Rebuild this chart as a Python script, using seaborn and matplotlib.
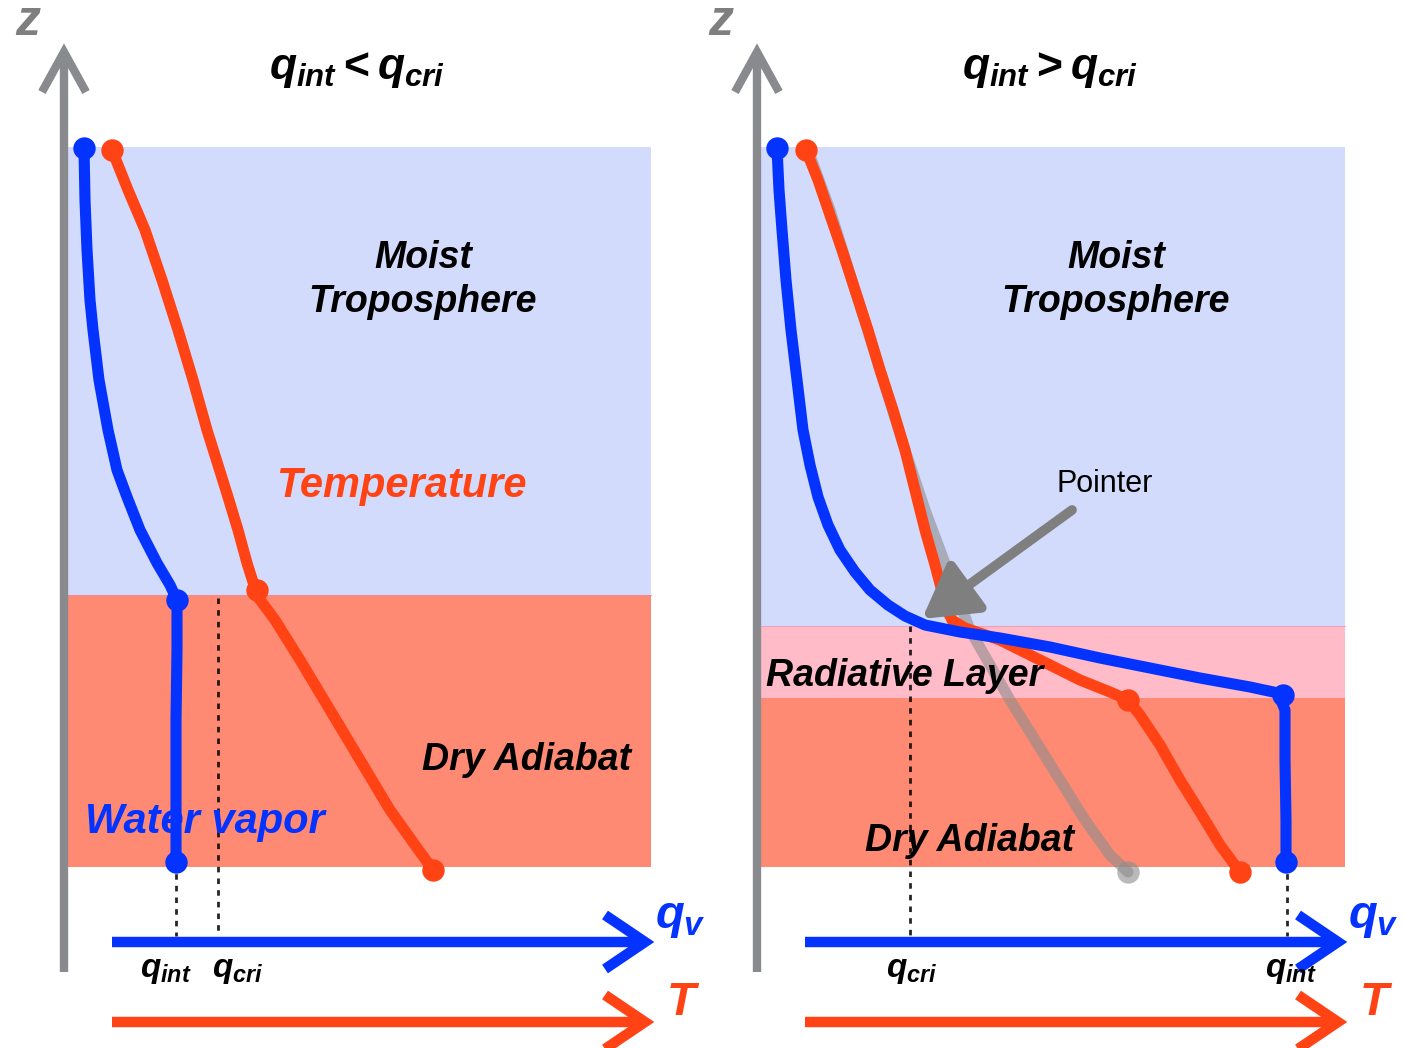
import numpy as np
import pandas as pd
import seaborn as sns
import matplotlib.pyplot as plt
from matplotlib.patches import Rectangle

# ---- data (picture pixel coordinates, z grows downward on the page) ----
# left panel: q_int < q_cri
left_qv_x = [84, 85, 87, 90, 93, 99, 108, 117, 127, 140, 157, 170, 177, 177, 176, 176, 176]
left_qv_z = [148, 200, 250, 300, 330, 380, 430, 470, 497, 530, 563, 585, 600, 650, 720, 800, 862]
left_T_x = [112, 128, 145, 162, 178, 193, 207, 218, 228, 238, 247, 253, 258, 275, 300, 330, 360, 390, 415, 433]
left_T_z = [150, 190, 230, 280, 330, 380, 430, 465, 497, 530, 563, 582, 597, 620, 660, 710, 760, 810, 845, 870]

# right panel: q_int > q_cri
right_qv_x = [777, 779, 782, 786, 791, 797, 803, 810, 818, 828, 840, 855, 870, 888, 905, 925, 960, 1000,
              1050, 1100, 1150, 1200, 1250, 1278, 1285, 1285, 1286, 1286]
right_qv_z = [148, 190, 230, 280, 330, 380, 430, 465, 497, 525, 550, 572, 590, 605, 616, 625, 632, 638,
              647, 658, 668, 678, 687, 693, 710, 760, 820, 862]
right_T_x = [806, 818, 830, 842, 855, 868, 880, 893, 905, 915, 925, 935, 943, 948, 952, 965, 1000,
             1040, 1080, 1110, 1128, 1140, 1160, 1180, 1200, 1220, 1240]
right_T_z = [150, 180, 215, 250, 290, 330, 370, 410, 450, 490, 530, 565, 595, 612, 620, 628, 640,
             660, 680, 692, 700, 715, 745, 780, 812, 845, 872]
right_dry_x = [808, 830, 855, 880, 905, 925, 940, 955, 970, 990, 1010, 1035, 1060, 1085, 1110, 1128]
right_dry_z = [150, 210, 290, 370, 450, 510, 550, 590, 630, 665, 700, 740, 780, 820, 855, 872]

# layer boundaries (z) for each panel
left_layers = [147, 595, 867]
right_layers = [147, 626, 698, 867]

BLUE = "#0433FF"
ORANGE = "#FF4315"
GRAY = "#888a8e"
LIGHTBLUE = "#D3DBFC"
SALMON = "#FF8A74"
PINK = "#FFBBC8"

sns.set_theme(style="white")
plt.rcParams['font.family'] = ['Liberation Sans', 'DejaVu Sans']
plt.rcParams['text.color'] = 'black'
plt.rcParams['mathtext.fontset'] = 'custom'
plt.rcParams['mathtext.it'] = 'Liberation Sans:italic:bold'
plt.rcParams['mathtext.rm'] = 'Liberation Sans:bold'
plt.rcParams['mathtext.bf'] = 'Liberation Sans:bold'

fig = plt.figure(figsize=(14.04, 10.48), dpi=100)
ax = fig.add_axes([0, 0, 1, 1])

BI = dict(fontweight='bold', fontstyle='italic')


def chevron_arrow(ax, x0, y, x1, color, lw, head=40, half=27):
    ax.plot([x0, x1 - 4], [y, y], color=color, lw=lw, solid_capstyle='butt')
    ax.plot([x1 - head, x1, x1 - head], [y - half, y, y + half], color=color, lw=lw,
            solid_joinstyle='miter', solid_capstyle='butt')


def z_axis(ax, x, ytop, ybot):
    ax.plot([x, x], [ybot, ytop + 4], color=GRAY, lw=6, solid_capstyle='butt')
    ax.plot([x - 22, x, x + 22], [ytop + 40, ytop, ytop + 40], color=GRAY, lw=6,
            solid_joinstyle='miter', solid_capstyle='butt')


def curve(ax, xs, zs, color, lw=8, alpha=1.0):
    df = pd.DataFrame({'x': xs, 'z': zs})
    sns.lineplot(data=df, x='x', y='z', sort=False, estimator=None, color=color,
                 lw=lw, alpha=alpha, ax=ax, solid_capstyle='round', solid_joinstyle='round')


def blobs(ax, xs, zs, color, alpha=1.0):
    sns.scatterplot(x=xs, y=zs, color=color, s=260, linewidth=0, alpha=alpha, ax=ax, zorder=5)


# ---- left panel ----
ax.add_patch(Rectangle((66, left_layers[0]), 585, left_layers[1] - left_layers[0], color=LIGHTBLUE, lw=0))
ax.add_patch(Rectangle((66, left_layers[1]), 585, left_layers[2] - left_layers[1], color=SALMON, lw=0))
ax.plot([66, 651], [left_layers[1]] * 2, color='#f08a96', lw=0.8)

# ---- right panel ----
ax.add_patch(Rectangle((759, right_layers[0]), 586, right_layers[1] - right_layers[0], color=LIGHTBLUE, lw=0))
ax.add_patch(Rectangle((759, right_layers[1]), 586, right_layers[2] - right_layers[1], color=PINK, lw=0))
ax.add_patch(Rectangle((759, right_layers[2]), 586, right_layers[3] - right_layers[2], color=SALMON, lw=0))
ax.plot([759, 1345], [right_layers[1]] * 2, color='#f0a0c0', lw=0.8)

# dotted guide lines
dots = dict(color='black', lw=2, ls=(0, (2, 2.2)), alpha=0.85)
ax.plot([176, 176], [862, 936], **dots)
ax.plot([218, 218], [598, 936], **dots)
ax.plot([910, 910], [626, 936], **dots)
ax.plot([1287, 1287], [862, 936], **dots)

# curves
curve(ax, right_dry_x, right_dry_z, '#8c8c8c', alpha=0.6)
blobs(ax, [right_dry_x[-1]], [right_dry_z[-1]], '#8c8c8c', alpha=0.6)
curve(ax, left_T_x, left_T_z, ORANGE)
curve(ax, left_qv_x, left_qv_z, BLUE)
curve(ax, right_T_x, right_T_z, ORANGE)
curve(ax, right_qv_x, right_qv_z, BLUE)
blobs(ax, [left_T_x[0], left_T_x[-1], 257], [left_T_z[0], left_T_z[-1], 590], ORANGE)
blobs(ax, [left_qv_x[0], left_qv_x[-1], 177], [left_qv_z[0], left_qv_z[-1], 600], BLUE)
blobs(ax, [right_T_x[0], right_T_x[-1], 1128], [right_T_z[0], right_T_z[-1], 700], ORANGE)
blobs(ax, [right_qv_x[0], right_qv_x[-1], 1283], [right_qv_z[0], right_qv_z[-1], 695], BLUE)

# axes arrows
for x in (64, 757):
    z_axis(ax, x, 52, 972)
    ax.text(x - 36, 22, 'z', color='#7f7f7f', fontsize=36, ha='center', va='center', **BI)
for x0, x1 in ((112, 645), (805, 1338)):
    chevron_arrow(ax, x0, 942, x1, BLUE, 7.5)
    chevron_arrow(ax, x0, 1022, x1, ORANGE, 7.5)
    ax.text(x1 + 10, 918, r'$q_v$', color=BLUE, fontsize=34, ha='left', va='center')
    ax.text(x1 + 22, 1003, 'T', color=ORANGE, fontsize=34, ha='left', va='center', **BI)

# pointer
ax.annotate('', xy=(922, 619), xytext=(1072, 510),
            arrowprops=dict(arrowstyle='-|>,head_length=1.3,head_width=0.75', lw=7,
                            color='#7f7f7f', mutation_scale=25, shrinkA=0, shrinkB=0))
ax.text(1105, 484, 'Pointer', fontsize=22, ha='center', va='center', color='black')

# labels
ax.text(357, 70, r'$q_{int} < q_{cri}$', fontsize=32, ha='center', va='center')
ax.text(1050, 70, r'$q_{int} > q_{cri}$', fontsize=32, ha='center', va='center')
ax.text(423, 280, 'Moist\nTroposphere', fontsize=27, ha='center', va='center', linespacing=1.3, **BI)
ax.text(1116, 280, 'Moist\nTroposphere', fontsize=27, ha='center', va='center', linespacing=1.3, **BI)
ax.text(401, 486, 'Temperature', fontsize=30, color=ORANGE, ha='center', va='center', **BI)
ax.text(527, 760, 'Dry Adiabat', fontsize=27, ha='center', va='center', **BI)
ax.text(205, 822, 'Water vapor', fontsize=30, color=BLUE, ha='center', va='center', **BI)
ax.text(905, 676, 'Radiative Layer', fontsize=27, ha='center', va='center', **BI)
ax.text(970, 841, 'Dry Adiabat', fontsize=27, ha='center', va='center', **BI)
ax.text(166, 970, r'$q_{int}$', fontsize=24, ha='center', va='center')
ax.text(238, 970, r'$q_{cri}$', fontsize=24, ha='center', va='center')
ax.text(912, 970, r'$q_{cri}$', fontsize=24, ha='center', va='center')
ax.text(1291, 970, r'$q_{int}$', fontsize=24, ha='center', va='center')

ax.set_xlim(0, 1404)
ax.set_ylim(1048, 0)
ax.axis('off')
fig.savefig('out.png', dpi=100)
